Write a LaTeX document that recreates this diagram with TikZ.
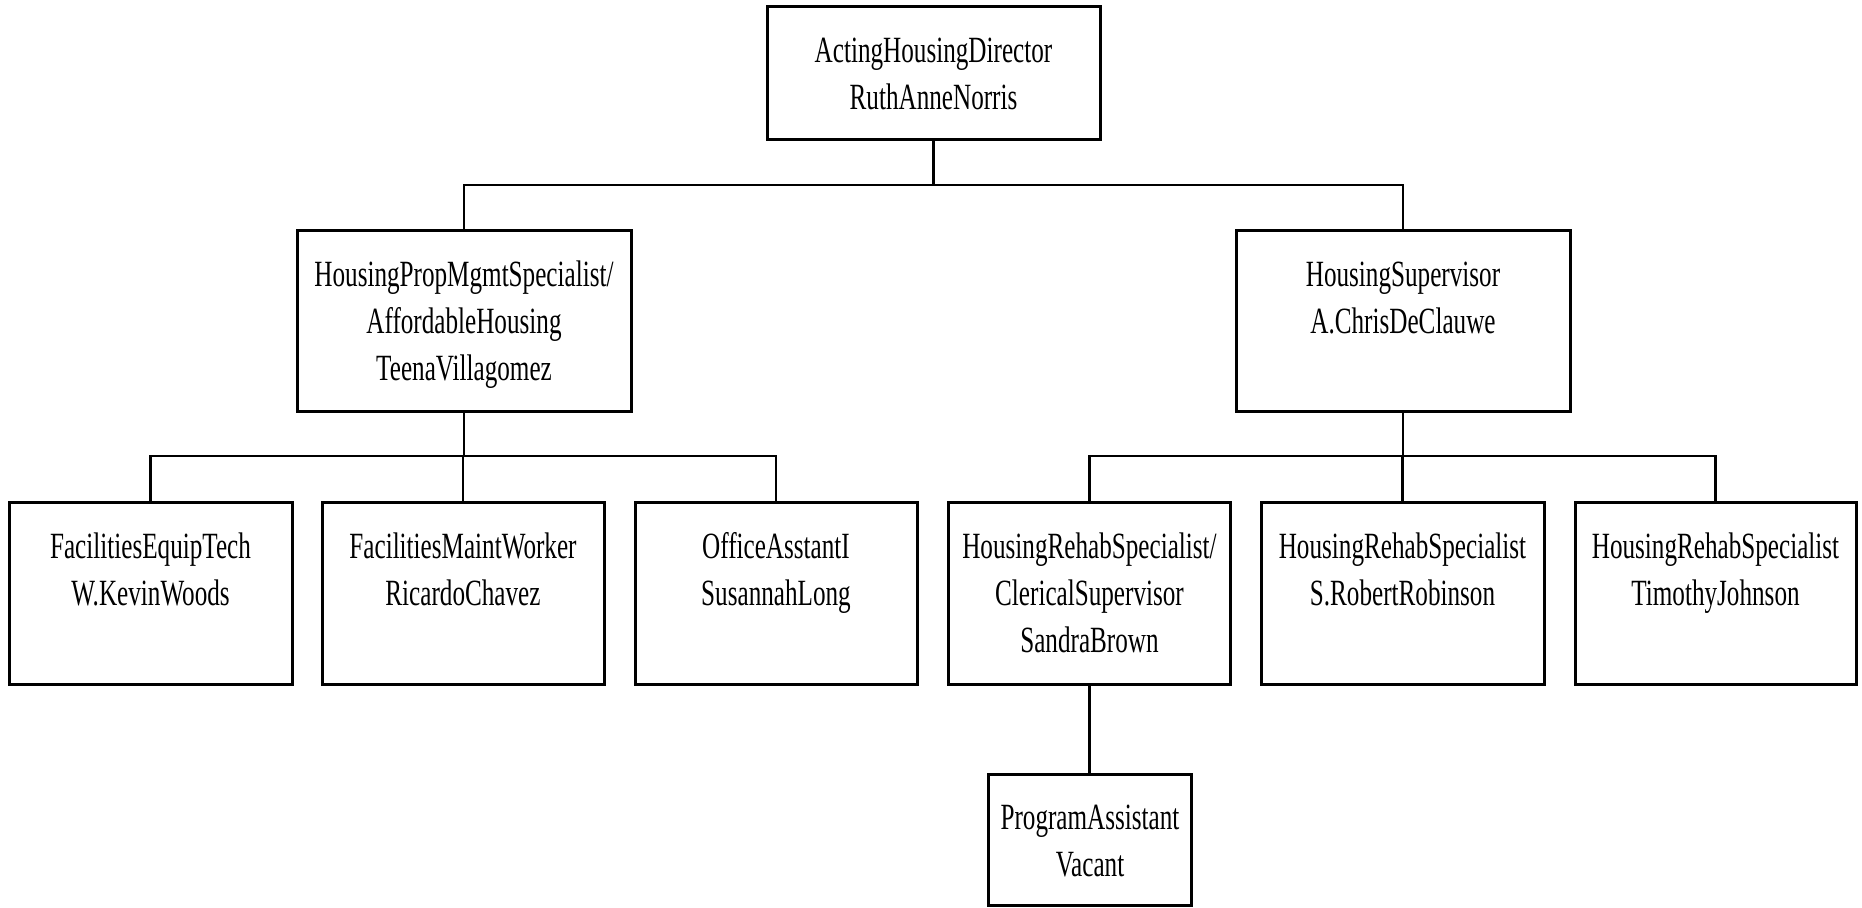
\documentclass[tikz,border=0pt]{standalone}
\usepackage{fontspec}
\newfontfamily\orgfont[FakeStretch=0.68]{Liberation Serif}
\newcommand\boxtext[1]{\begin{tabular}[t]{@{}c@{}}#1\end{tabular}}
\tikzset{
  orgbox/.style={draw=black, line width=3pt, inner sep=0pt, fill=white},
  lbl/.style={anchor=base, inner sep=0pt, font={\orgfont\fontsize{37}{47}\selectfont}},
  conn/.style={draw=black, line width=2.3pt},
}
\begin{document}
\begin{tikzpicture}[x=1pt,y=-1pt]
\useasboundingbox (0,0) rectangle (1862,907);
\clip (0,0) rectangle (1862,907);
% boxes
\node[orgbox, minimum width=333, minimum height=132] (top) at (933.5,73) {};
\node[orgbox, minimum width=334, minimum height=181] (hpm) at (464,320.5) {};
\node[orgbox, minimum width=334, minimum height=181] (hs) at (1403,320.5) {};
\node[orgbox, minimum width=283, minimum height=182] (fet) at (150.5,593) {};
\node[orgbox, minimum width=282, minimum height=182] (fmw) at (463,593) {};
\node[orgbox, minimum width=282, minimum height=182] (oa) at (776,593) {};
\node[orgbox, minimum width=282, minimum height=182] (hrs1) at (1089.5,593) {};
\node[orgbox, minimum width=283, minimum height=182] (hrs2) at (1402.5,593) {};
\node[orgbox, minimum width=281, minimum height=182] (hrs3) at (1715.5,593) {};
\node[orgbox, minimum width=203, minimum height=131] (pa) at (1090,839.5) {};
% texts
\node[lbl] (topT) at ([yshift=-57pt]top.north) {\boxtext{ActingHousingDirector\\RuthAnneNorris}};
\node[lbl] (hpmT) at ([yshift=-58pt]hpm.north) {\boxtext{HousingPropMgmtSpecialist/\\AffordableHousing\\TeenaVillagomez}};
\node[lbl] (hsT) at ([yshift=-58pt]hs.north) {\boxtext{HousingSupervisor\\A.ChrisDeClauwe}};
\node[lbl] (fetT) at ([yshift=-58pt]fet.north) {\boxtext{FacilitiesEquipTech\\W.KevinWoods}};
\node[lbl] (fmwT) at ([yshift=-58pt]fmw.north) {\boxtext{FacilitiesMaintWorker\\RicardoChavez}};
\node[lbl] (oaT) at ([yshift=-58pt]oa.north) {\boxtext{OfficeAsstantI\\SusannahLong}};
\node[lbl] (hrs1T) at ([yshift=-58pt]hrs1.north) {\boxtext{HousingRehabSpecialist/\\ClericalSupervisor\\SandraBrown}};
\node[lbl] (hrs2T) at ([yshift=-58pt]hrs2.north) {\boxtext{HousingRehabSpecialist\\S.RobertRobinson}};
\node[lbl] (hrs3T) at ([yshift=-58pt]hrs3.north) {\boxtext{HousingRehabSpecialist\\TimothyJohnson}};
\node[lbl] (paT) at ([yshift=-57pt]pa.north) {\boxtext{ProgramAssistant\\Vacant}};
% connectors
\coordinate (j1) at (933.5,185);
\coordinate (j2) at (464,456);
\coordinate (j3) at (1403,456);
\draw[conn] (top.south) -- (j1);
\draw[conn] (hpm.north) |- (j1) -| (hs.north);
\draw[conn] (hpm.south) -- (j2);
\draw[conn] (fet.north) |- (j2) -| (oa.north);
\draw[conn] (fmw.north) -- (fmw.north |- j2);
\draw[conn] (hs.south) -- (j3);
\draw[conn] (hrs1.north) |- (j3) -| (hrs3.north);
\draw[conn] (hrs2.north) -- (hrs2.north |- j3);
\draw[conn] (hrs1.south) -- (hrs1.south |- pa.north);
\end{tikzpicture}
\end{document}
